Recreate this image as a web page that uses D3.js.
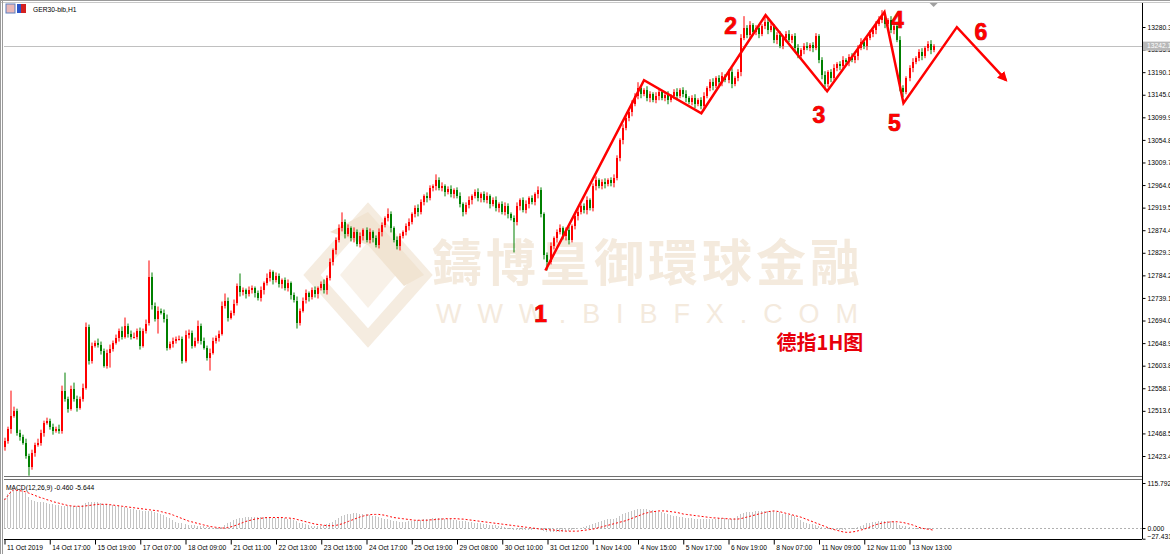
<!DOCTYPE html>
<html>
<head>
<meta charset="utf-8">
<script src="https://cdn.jsdelivr.net/npm/d3@7"></script>
<style>
html, body { margin: 0; padding: 0; background: #fff; }
svg { display: block; font-family: "Liberation Sans", Arial, sans-serif; }
</style>
</head>
<body>
<svg id="chart" width="1170" height="554"></svg>
<script>
// GER30-bib H1 candles, 11 Oct - 13 Nov 2019
const firstOpen = 12442;
const closes = [
  12454,12478,12504,12514,12470,12462,12450,12424,12402,12430,
  12446,12450,12470,12490,12494,12482,12474,12478,12474,
  12554,12538,12518,12558,12538,12520,12538,12560,12682,12614,
  12644,12650,12646,12634,12604,12630,12638,12650,12660,12674,
  12662,12684,12668,12662,12662,12674,12644,12674,12688,12780,
  12724,12698,12714,12710,12698,12640,12648,12654,12658,12658,
  12614,12666,12670,12644,12654,12684,12654,12640,12620,12630,
  12654,12660,12668,12724,12734,12700,12710,12728,12762,12750,
  12754,12746,12754,
  12758,12748,12738,12754,12768,12778,12790,12774,12782,12766,
  12774,12758,12768,12744,12734,12690,12714,12734,12748,12740,
  12754,12746,12758,12766,12754,12778,12810,12834,12854,12878,
  12890,12866,12878,12858,12870,12846,12862,12874,12854,12870,
  12858,12844,12870,12884,12898,12906,12878,12854,12842,12862,
  12870,12882,12890,12906,12918,12910,12930,12942,12938,12958,
  12962,12974,12958,12962,12950,12956,12946,12954,12942,12926,
  12910,12924,12934,12942,12950,12938,12946,12934,12942,12926,
  12934,12918,12926,12910,12922,12906,12898,12890,12922,12934,
  12914,12926,12938,12930,12946,12954,12906,12824,12810,12842,
  12858,12870,12878,12862,12874,12854,12882,12902,12910,12922,
  12914,12934,12918,12962,12974,12962,12970,12966,12974,12968,
  12978,13018,13054,13078,13098,13110,13126,13142,13158,13146,
  13154,13138,13146,13134,13142,13150,13138,13144,13134,13142,
  13150,13142,13154,13146,13138,13130,13138,13126,13134,13122,
  13142,13158,13170,13162,13178,13170,13182,13174,13190,13166,
  13178,13190,13258,13278,13264,13284,13270,13278,13266,13282,
  13290,13274,13282,13254,13264,13242,13258,13266,13254,13262,
  13238,13222,13234,13242,13238,13244,13238,13262,13214,13184,
  13166,13190,13178,13198,13206,13202,13214,13210,13220,13214,
  13222,13238,13250,13242,13258,13266,13274,13286,13294,13302,
  13286,13294,13274,13282,13254,13158,13150,13178,13198,13210,
  13218,13230,13222,13238,13246,13234,13242
];
// shadow lengths above / below the body, in points
const upWick = [
  6,4,50,8,4,6,4,8,4,6, 4,8,6,4,6,4,6,4,8,10, 36,4,6,12,6,4,8,8,4,6,
  4,8,6,4,6,8,4,6,4,8, 16,4,6,8,4,6,4,8,34,10, 6,8,4,6,8,4,6,4,6,4,
  8,6,4,6,10,4,6,4,8,6, 4,6,8,14,6,4,8,6,26,6, 4,8,6,4,6,8,4,10,6,4,
  8,6,4,6,8,4,6,8,4,6, 8,4,6,8,4,6,10,6,8,4, 6,8,20,6,8,4,10,6,8,4,
  6,8,4,6,8,6,4,12,6,4, 8,6,4,6,8,4,6,8,6,4, 8,6,4,12,6,8,4,6,8,4,
  6,8,4,6,8,4,6,8,4,6, 8,4,6,8,4,6,8,6,4,6, 8,4,6,8,4,6,4,8,6,4,
  6,8,4,6,8,4,6,8,4,6, 8,4,6,8,4,6,8,4,6,8, 4,6,8,6,4,8,6,4,8,6,
  12,6,4,8,6,4,8,6,4,6, 8,4,6,8,4,6,8,4,6,8, 4,6,8,4,6,8,4,6,8,4,
  6,8,4,6,8,24,6,8,4,6, 8,4,12,6,8,4,6,8,4,6, 8,4,6,8,4,6,8,4,6,6,
  4,6,8,4,6,8,4,6,8,4, 6,8,4,6,8,4,6,8,4,6, 8,12,6,4,8,6,4,8,6,4,
  6,8,4,6,8,4,6,8,4
];
const dnWick = [
  8,6,10,4,6,8,4,6,18,6, 8,4,6,8,4,6,8,4,6,6, 6,8,4,6,8,4,6,4,8,6,
  4,6,8,4,6,30,6,4,8,6, 4,8,6,4,6,8,4,6,4,8, 6,30,4,8,6,4,8,6,4,6,
  4,8,6,4,6,8,4,6,26,4, 6,8,4,6,8,4,6,4,8,6, 8,4,6,8,4,6,8,4,6,8,
  4,6,8,4,6,8,4,12,6,4, 6,8,4,6,8,4,6,8,4,6, 8,4,6,8,4,6,8,4,6,8,
  4,6,8,4,6,8,4,6,8,4, 6,8,4,6,8,4,6,8,4,6, 8,4,6,8,4,6,8,4,6,8,
  4,6,8,4,6,8,4,6,8,4, 6,8,4,6,8,4,6,8,4,60, 6,8,4,6,8,4,6,8,6,8,
  16,4,6,8,4,6,8,8,4,6, 8,4,6,8,4,6,8,4,6,8, 4,6,8,4,6,8,4,6,8,4,
  6,8,4,6,8,4,6,8,4,6, 8,4,6,8,4,6,8,4,6,8, 4,6,8,4,6,8,4,6,8,4,
  6,8,4,6,8,4,6,8,4,6, 8,4,6,8,4,6,8,4,6,8, 4,6,8,4,6,8,4,6,8,4,
  6,8,12,6,8,4,6,8,4,6, 8,4,6,8,4,6,8,4,6,8, 4,6,8,4,6,8,4,6,10,4,
  6,8,4,6,8,4,6,8,4
];
// MACD(12,26,9): main histogram and signal line
const macdMain = [
  77,88,95,98,98,98,97,90,80,73, 70,68,67,66,64,63,62,60,58,57,
  56,56,57,57,56,57,60,64,67,67, 67,66,65,63,62,60,58,57,56,55,
  54,52,50,48,47,46,45,44,44,43, 41,39,37,33,29,25,20,16,14,12,
  10,9,8,7,6,5,4,3,2,1, 0,-2,2,8,12,16,20,23,26,27,
  28,28,28,28,28,28,28,28,28,27, 27,26,26,26,24,22,20,17,14,12,
  10,8,6,5,5,6,8,10,13,16, 20,25,30,33,35,37,38,38,37,36,
  35,34,32,30,28,26,24,22,20,18, 17,16,16,16,17,18,19,20,21,22,
  23,24,25,26,26,25,24,23,22,21, 20,19,18,17,16,15,14,13,12,11,
  10,9,8,7,6,4,2,0,-2,-4, -5,-5,-5,-5,-4,-4,-3,-3,-4,-7,
  -10,-11,-11,-11,-10,-9,-8,-7,-5,-3, -1,1,3,5,7,10,13,16,18,20,
  22,23,24,27,31,35,38,41,44,46, 48,49,49,48,47,46,44,42,40,38,
  36,34,32,30,29,28,27,26,25,24, 23,22,22,23,24,24,24,25,25,25,
  24,24,27,30,35,38,40,41,42,43, 44,44,44,44,44,43,42,40,37,35,
  34,33,31,26,20,16,13,11,10,9, 6,3,1,0,-2,-4,-5,-5,-5,-4,
  -2,0,1,3,6,9,12,14,15,16, 17,18,18,18,18,17,14,9,6,4,
  2,0,-1,-2,-3,-3,-3,-2,-0.46
];
const macdSignal = [
  72,82,92,98,97,96,95,93,90,87, 84,81,78,76,73,71,68,66,64,62,
  60,58,57,56,56,56,56,57,58,59, 60,61,61,61,61,60,59,58,57,56,
  55,54,53,52,51,50,49,48,47,46, 45,44,42,40,38,36,33,30,27,24,
  21,18,16,14,12,10,8,6,4,3, 2,1,0,0,1,3,5,8,11,14,
  17,19,21,23,24,25,26,27,27,27, 27,27,27,26,26,25,24,22,20,18,
  16,14,12,10,9,8,7,6,6,6, 7,9,11,14,17,20,23,26,29,31,
  33,34,35,35,35,34,33,31,29,27, 26,25,24,23,22,21,20,20,20,20,
  20,21,21,22,23,23,24,24,24,24, 24,23,23,22,21,20,19,18,17,16,
  15,14,13,12,11,10,9,8,7,6, 5,4,3,2,1,0,-1,-2,-3,-3,
  -4,-5,-5,-6,-7,-7,-8,-8,-8,-8, -8,-7,-6,-5,-4,-3,-1,1,3,5,
  7,9,11,13,15,17,19,22,25,28, 31,34,37,39,41,42,43,44,44,44,
  43,42,41,40,38,36,35,34,33,32, 31,30,29,28,27,26,26,25,25,24,
  24,23,23,23,24,26,28,30,32,34, 36,38,40,42,43,44,43,42,40,38,
  36,34,32,30,28,25,22,19,16,13, 10,7,4,1,-2,-4,-6,-8,-10,-11,
  -11,-10,-9,-7,-5,-3,0,3,6,9, 11,13,14,15,16,16,16,15,14,12,
  10,8,5,2,0,-2,-3,-4,-5.644
];
const timeLabels = ["11 Oct 2019","14 Oct 17:00","15 Oct 19:00","17 Oct 07:00","18 Oct 09:00",
  "21 Oct 11:00","22 Oct 13:00","23 Oct 15:00","24 Oct 17:00","25 Oct 19:00","29 Oct 08:00",
  "30 Oct 10:00","31 Oct 12:00","1 Nov 14:00","4 Nov 15:00","5 Nov 17:00","6 Nov 19:00",
  "8 Nov 07:00","11 Nov 09:00","12 Nov 11:00","13 Nov 13:00"];
const timeTickBars = [0,15,30,45,60,75,90,105,120,135,150,165,180,195,210,225,240,255,270,285,300];
const priceTicks = [12423.4,12468.5,12513.6,12558.7,12603.8,12648.9,12694.0,12739.1,12784.2,12829.3,
  12874.4,12919.5,12964.6,13009.7,13054.8,13099.9,13145.0,13190.1,13235.2,13280.3];
const macdTicks = [115.792, 0, -27.431];
const currentPrice = 13242.1;

// hand-drawn wave path (bar index, price) and its labels
const waveBars = [179.3, 212, 231, 252.3, 272.7, 291.7, 298, 315.7, 332];
const wavePrices = [12794, 13174, 13108, 13304, 13152, 13310, 13128, 13280, 13174];
const waveNames = ["1","2","3","4","5","6"];
const waveNameBars = [177.7, 240.7, 270, 296, 295, 323.7];
const waveNamePrices = [12707, 13282, 13104, 13294, 13088, 13270];
const titleText = "德指1H图";

const svg = d3.select("#chart");
const plotLeft = 4, plotRight = 1142, mainTop = 3, mainBottom = 476, macdTop = 479, macdBottom = 539;

const x = d3.scaleLinear().domain([0, 300]).range([4.5, 909.5]);
const y = d3.scaleLinear().domain([12423.4, 13280.3]).range([456, 27]);
const ym = d3.scaleLinear().domain([-27.431, 115.792]).range([538.7, 483]);

const opens = closes.map((c, i) => i === 0 ? firstOpen : closes[i - 1]);

svg.append("rect").attr("width", 1170).attr("height", 554).attr("fill", "#fff");

svg.append("defs").append("clipPath").attr("id", "mainClip")
  .append("rect").attr("x", plotLeft).attr("y", mainTop).attr("width", plotRight - plotLeft).attr("height", mainBottom - mainTop);

// watermark
const wm = svg.append("g").attr("fill", "#f4eadd");
wm.append("polygon").attr("points", "368,212 424,275 368,338 312,275")
  .attr("fill", "none").attr("stroke", "#f5ece0").attr("stroke-width", 13);
wm.append("polygon").attr("points", "368,242 396,275 368,308 340,275").attr("fill", "#f8f1e8");
wm.append("polygon").attr("points", "330,232 368,212 424,275 404,286 368,245").attr("fill", "#f1e4d2");
wm.append("text").attr("x", 432).attr("y", 281)
  .attr("font-family", "'Noto Sans CJK TC','Noto Sans CJK SC',sans-serif").attr("font-weight", 700)
  .attr("font-size", 50).attr("textLength", 428).attr("lengthAdjust", "spacing")
  .text("鑄博皇御環球金融");
wm.append("text").attr("x", 436).attr("y", 323)
  .attr("font-size", 27).attr("textLength", 422).attr("lengthAdjust", "spacing")
  .text("WWW.BIBFX.COM");

const main = svg.append("g").attr("clip-path", "url(#mainClip)");

// current price line
main.append("line").attr("x1", plotLeft).attr("x2", plotRight)
  .attr("y1", Math.round(y(currentPrice)) + 0.5).attr("y2", Math.round(y(currentPrice)) + 0.5)
  .attr("stroke", "#c0c0c0");

// candles
const candle = main.append("g");
candle.selectAll("rect.wick").data(closes).join("rect")
  .attr("class", "wick")
  .attr("x", (d, i) => Math.round(x(i)) - 0.5)
  .attr("width", 1)
  .attr("y", (d, i) => y(Math.max(opens[i], d) + upWick[i]))
  .attr("height", (d, i) => y(Math.min(opens[i], d) - dnWick[i]) - y(Math.max(opens[i], d) + upWick[i]))
  .attr("fill", (d, i) => d >= opens[i] ? "#ff0000" : "#008000");
candle.selectAll("rect.body").data(closes).join("rect")
  .attr("class", "body")
  .attr("x", (d, i) => Math.round(x(i)) - 1)
  .attr("width", 2)
  .attr("y", (d, i) => Math.round(y(Math.max(opens[i], d))))
  .attr("height", (d, i) => Math.max(1, Math.round(y(Math.min(opens[i], d)) - y(Math.max(opens[i], d)))))
  .attr("fill", (d, i) => d >= opens[i] ? "#ff0000" : "#008000");

// wave annotation
svg.append("defs").append("marker").attr("id", "arrow")
  .attr("viewBox", "0 0 10 10").attr("refX", 8).attr("refY", 5)
  .attr("markerWidth", 4).attr("markerHeight", 4).attr("orient", "auto")
  .append("path").attr("d", "M0,0 L10,5 L0,10 z").attr("fill", "#ff0000");
main.append("path")
  .datum(waveBars.map((b, i) => [b, wavePrices[i]]))
  .attr("d", d3.line().x(d => x(d[0])).y(d => y(d[1])))
  .attr("fill", "none").attr("stroke", "#ff0000").attr("stroke-width", 2.5)
  .attr("marker-end", "url(#arrow)");
main.selectAll("text.wave").data(waveNames).join("text")
  .attr("class", "wave")
  .attr("x", (d, i) => x(waveNameBars[i]))
  .attr("y", (d, i) => y(waveNamePrices[i]))
  .attr("text-anchor", "middle").attr("dominant-baseline", "central")
  .attr("font-size", 23).attr("font-weight", 700)
  .attr("fill", "#ff0000").attr("stroke", "#9a0000").attr("stroke-width", 0.7)
  .attr("paint-order", "stroke")
  .text(d => d);
main.append("text")
  .attr("x", x(270.3)).attr("y", y(12653))
  .attr("text-anchor", "middle").attr("dominant-baseline", "central")
  .attr("font-family", "'Noto Sans CJK SC','Liberation Sans',sans-serif")
  .attr("font-size", 20).attr("font-weight", 700).attr("fill", "#e8000b")
  .text(titleText);

// MACD pane
const macd = svg.append("g");
macd.append("line").attr("x1", plotLeft).attr("x2", plotRight)
  .attr("y1", Math.round(ym(0)) + 0.5).attr("y2", Math.round(ym(0)) + 0.5)
  .attr("stroke", "#b0b0b0").attr("stroke-dasharray", "2,2");
macd.selectAll("rect.hist").data(macdMain).join("rect")
  .attr("class", "hist")
  .attr("x", (d, i) => Math.round(x(i)) - 1)
  .attr("width", 1)
  .attr("y", d => Math.round(Math.min(ym(d), ym(0))))
  .attr("height", d => Math.max(1, Math.round(Math.abs(ym(d) - ym(0)))))
  .attr("fill", "#c4c4c4");
macd.append("path").datum(macdSignal)
  .attr("d", d3.line().x((d, i) => x(i)).y(d => ym(d)))
  .attr("fill", "none").attr("stroke", "#ff0000").attr("stroke-width", 1)
  .attr("stroke-dasharray", "2,2");
macd.append("text").attr("x", 6).attr("y", 489.5).attr("font-size", 6.7).attr("fill", "#000")
  .text(`MACD(12,26,9) ${macdMain[macdMain.length - 1].toFixed(3)} ${macdSignal[macdSignal.length - 1].toFixed(3)}`);

// frames
const frame = svg.append("g").attr("fill", "none").attr("shape-rendering", "crispEdges");
frame.append("line").attr("x1", 0).attr("x2", 1170).attr("y1", 0.5).attr("y2", 0.5).attr("stroke", "#9a9a9a");
frame.append("line").attr("x1", 0).attr("x2", 1170).attr("y1", 2.5).attr("y2", 2.5).attr("stroke", "#c8c8c8");
frame.append("line").attr("x1", 0.5).attr("x2", 0.5).attr("y1", 0).attr("y2", 554).attr("stroke", "#9a9a9a");
frame.append("line").attr("x1", 2.5).attr("x2", 2.5).attr("y1", 0).attr("y2", 554).attr("stroke", "#9a9a9a");
frame.append("line").attr("x1", plotLeft).attr("x2", plotRight).attr("y1", mainBottom + 0.5).attr("y2", mainBottom + 0.5).attr("stroke", "#707070");
frame.append("line").attr("x1", plotLeft).attr("x2", plotRight).attr("y1", macdTop + 0.5).attr("y2", macdTop + 0.5).attr("stroke", "#707070");
frame.append("line").attr("x1", plotRight + 0.5).attr("x2", plotRight + 0.5).attr("y1", mainTop).attr("y2", macdBottom).attr("stroke", "#000");
frame.append("line").attr("x1", plotLeft).attr("x2", plotRight).attr("y1", macdBottom + 0.5).attr("y2", macdBottom + 0.5).attr("stroke", "#000");

// right price axis
const yAxis = svg.append("g").attr("transform", `translate(${plotRight + 0.5},0)`)
  .call(d3.axisRight(y).tickValues(priceTicks).tickFormat(d3.format(".2f")).tickSize(3).tickPadding(2));
yAxis.select(".domain").remove();
yAxis.selectAll("text").attr("font-size", 6.7).attr("font-family", "'Liberation Sans',Arial,sans-serif").attr("fill", "#000");
yAxis.selectAll("line").attr("stroke", "#000");

// current price tag
svg.append("rect").attr("x", plotRight + 1).attr("y", y(currentPrice) - 4.5).attr("width", 30).attr("height", 9).attr("fill", "#b8b8b8");
svg.append("text").attr("x", plotRight + 5).attr("y", y(currentPrice)).attr("dy", "0.32em")
  .attr("font-size", 6.7).attr("fill", "#fff").text(d3.format(".2f")(currentPrice));

// MACD axis
const mAxis = svg.append("g").attr("transform", `translate(${plotRight + 0.5},0)`)
  .call(d3.axisRight(ym).tickValues(macdTicks).tickFormat(d3.format(".3f")).tickSize(3).tickPadding(2));
mAxis.select(".domain").remove();
mAxis.selectAll("text").attr("font-size", 6.7).attr("font-family", "'Liberation Sans',Arial,sans-serif").attr("fill", "#000")
  .attr("dy", d => d < 0 ? "-0.1em" : "0.32em");
mAxis.selectAll("line").attr("stroke", "#000");

// time axis
const xAxis = svg.append("g").attr("transform", `translate(0,${macdBottom + 0.5})`)
  .call(d3.axisBottom(x).tickValues(timeTickBars).tickFormat((d, i) => timeLabels[i]).tickSize(5).tickPadding(1));
xAxis.select(".domain").remove();
xAxis.selectAll("text").attr("font-size", 6.7).attr("font-family", "'Liberation Sans',Arial,sans-serif")
  .attr("fill", "#000").attr("text-anchor", "start").attr("x", 2);
xAxis.selectAll("line").attr("stroke", "#000");

// header
svg.append("rect").attr("x", 6).attr("y", 4).attr("width", 9).attr("height", 9).attr("fill", "#e9b8b8").attr("stroke", "#5b7fc0");
svg.append("rect").attr("x", 17).attr("y", 4).attr("width", 4).attr("height", 9).attr("fill", "#2a55c8");
svg.append("rect").attr("x", 21).attr("y", 4).attr("width", 5).attr("height", 9).attr("fill", "#d42020");
svg.append("text").attr("x", 33).attr("y", 11.5).attr("font-size", 6.7).attr("fill", "#000").text("GER30-bib,H1");

// chart shift marker
svg.append("path")
  .attr("d", `M${x(closes.length - 1) - 4},3 L${x(closes.length - 1) + 4},3 L${x(closes.length - 1)},7 z`)
  .attr("fill", "#a0a0a0");
</script>
</body>
</html>
